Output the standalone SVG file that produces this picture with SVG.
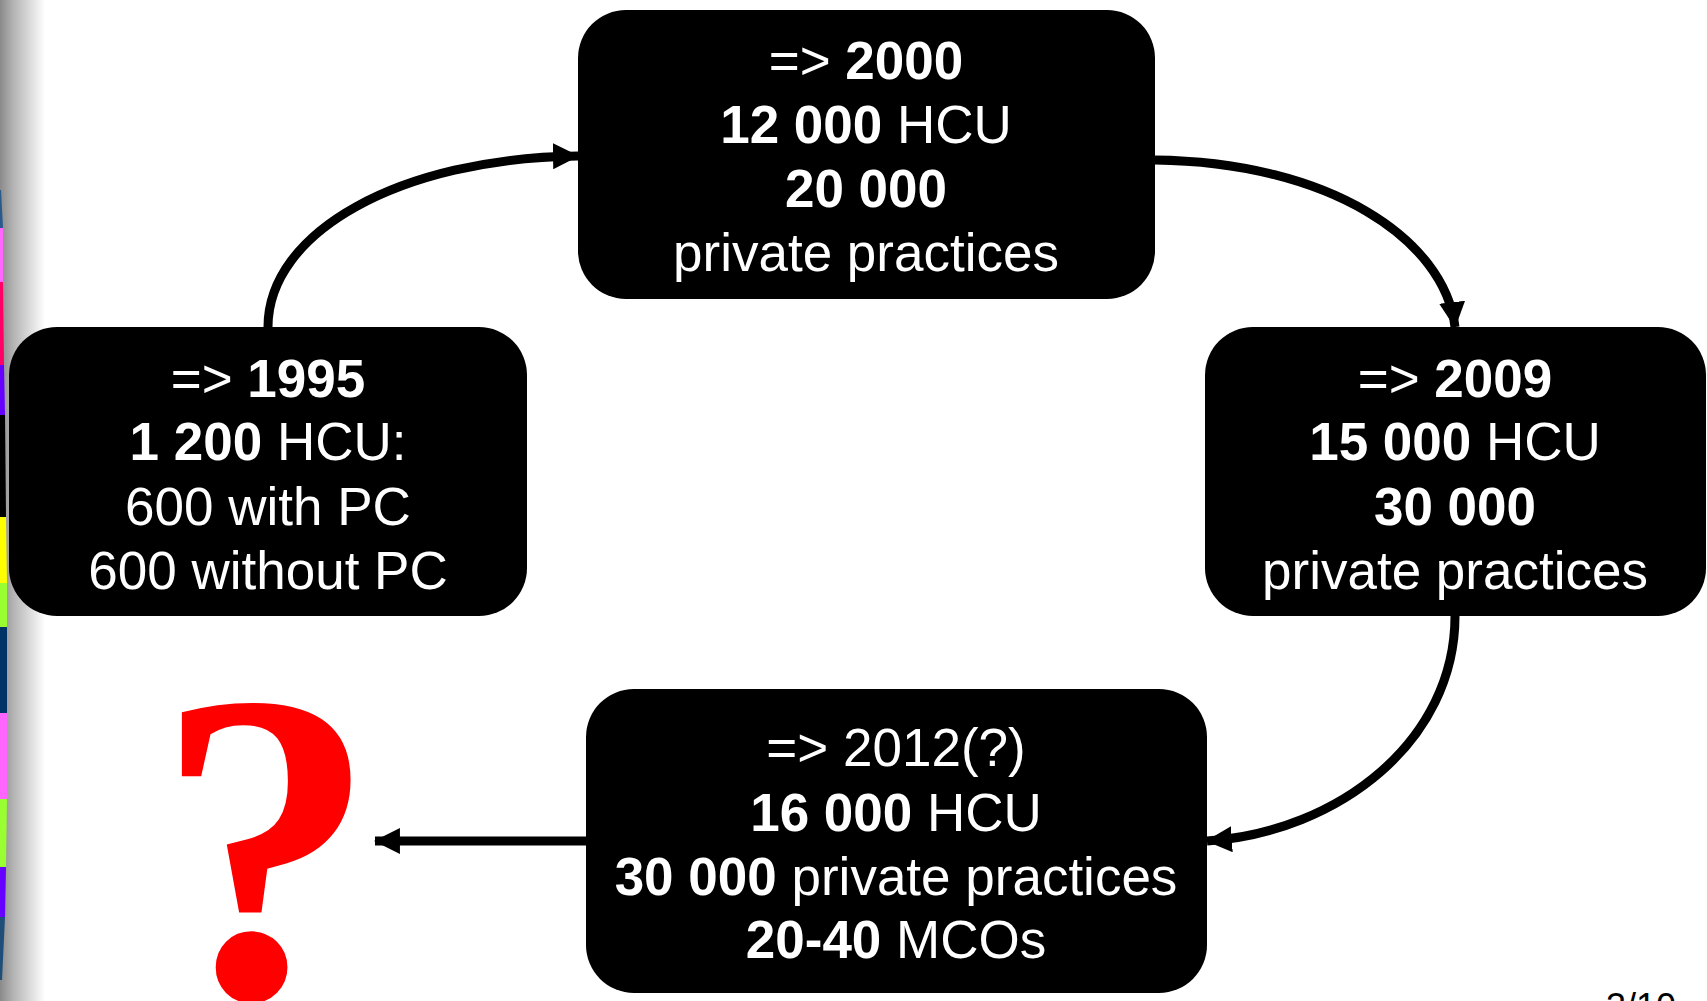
<svg xmlns="http://www.w3.org/2000/svg" width="1707" height="1001" viewBox="0 0 1707 1001">
<defs>
<style>
.box{fill:#000}
.t{font-family:"Liberation Sans",Arial,sans-serif;font-size:53px;fill:#fff;text-anchor:middle}
.b{font-weight:bold}
.conn{fill:none;stroke:#000;stroke-width:9}
</style>
<marker id="ah" markerUnits="userSpaceOnUse" markerWidth="26" markerHeight="26" viewBox="0 0 24 24" refX="23" refY="12" orient="auto">
<path d="M0,0 L24,12 L0,24 z" fill="#000"/>
</marker>
<linearGradient id="edge" x1="0" y1="0" x2="1" y2="0">
<stop offset="0" stop-color="#8a8a8a"/>
<stop offset="0.3" stop-color="#b4b4b4"/>
<stop offset="1" stop-color="#fff"/>
</linearGradient>
</defs>
<rect width="1707" height="1001" fill="#fff"/>
<rect x="0" y="0" width="45" height="1001" fill="url(#edge)"/>
<g id="stripes">
<path d="M0,190 L1,190 L3,228 L0,228 z" fill="#2a5a8c"/>
<path d="M0,228 L3,228 L3,282 L0,282 z" fill="#ff66ff"/>
<path d="M0,282 L3,282 L4,365 L0,365 z" fill="#ff0066"/>
<path d="M0,365 L4,365 L5,415 L0,415 z" fill="#6600ff"/>
<path d="M0,415 L5,415 L6,517 L0,517 z" fill="#000"/>
<path d="M0,517 L6,517 L7,583 L0,583 z" fill="#ffff00"/>
<path d="M0,583 L7,583 L7,627 L0,627 z" fill="#99ff33"/>
<path d="M0,627 L7,627 L7,713 L0,713 z" fill="#003366"/>
<path d="M0,713 L7,713 L7,799 L0,799 z" fill="#ff66ff"/>
<path d="M0,799 L7,799 L6,867 L0,867 z" fill="#99ff33"/>
<path d="M0,867 L6,867 L5,917 L0,917 z" fill="#6600ff"/>
<path d="M0,917 L5,917 L2,980 L0,980 z" fill="#1f4e79"/>
</g>
<g id="connectors">
<path class="conn" d="M268,327 C268,232 400,158 578,156" marker-end="url(#ah)"/>
<path class="conn" d="M1155,160 C1330,162 1445,240 1455,327" marker-end="url(#ah)"/>
<path class="conn" d="M1455,616 C1455,740 1340,832 1207,841" marker-end="url(#ah)"/>
<path class="conn" d="M586,841 L375,841" marker-end="url(#ah)"/>
</g>
<g id="node-2000">
<rect class="box" x="578" y="10" width="577" height="289" rx="48"/>
<text class="t" x="866" y="79">=&gt; <tspan class="b">2000</tspan></text>
<text class="t" x="866" y="143"><tspan class="b">12 000</tspan> HCU</text>
<text class="t b" x="866" y="207">20 000</text>
<text class="t" x="866" y="271">private practices</text>
</g>
<g id="node-1995">
<rect class="box" x="9" y="327" width="518" height="289" rx="48"/>
<text class="t" x="268" y="397">=&gt; <tspan class="b">1995</tspan></text>
<text class="t" x="268" y="460"><tspan class="b">1 200</tspan> HCU:</text>
<text class="t" x="268" y="525">600 with PC</text>
<text class="t" x="268" y="589">600 without PC</text>
</g>
<g id="node-2009">
<rect class="box" x="1205" y="327" width="501" height="289" rx="48"/>
<text class="t" x="1455" y="397">=&gt; <tspan class="b">2009</tspan></text>
<text class="t" x="1455" y="460"><tspan class="b">15 000</tspan> HCU</text>
<text class="t b" x="1455" y="525">30 000</text>
<text class="t" x="1455" y="589">private practices</text>
</g>
<g id="node-2012">
<rect class="box" x="586" y="689" width="621" height="304" rx="48"/>
<text class="t" x="896" y="766">=&gt; 2012(?)</text>
<text class="t" x="896" y="831"><tspan class="b">16 000</tspan> HCU</text>
<text class="t" x="896" y="895"><tspan class="b">30 000</tspan> private practices</text>
<text class="t" x="896" y="958"><tspan class="b">20-40</tspan> MCOs</text>
</g>
<g id="question">
<text x="266" y="997" font-family="'Liberation Serif','Times New Roman',serif" font-weight="bold" font-size="444" fill="#ff0000" text-anchor="middle">?</text>
</g>
<text x="1606" y="1019" font-family="'Liberation Sans',Arial,sans-serif" font-size="36" fill="#000">3/10</text>
</svg>
